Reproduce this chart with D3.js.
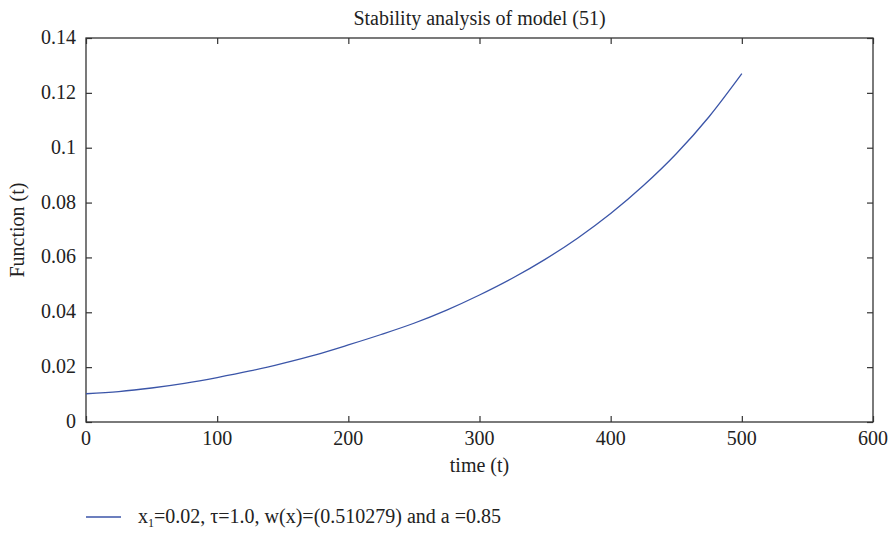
<!DOCTYPE html>
<html>
<head>
<meta charset="utf-8">
<script src="https://cdn.jsdelivr.net/npm/d3@7"></script>
<style>
  body { margin: 0; background: #fff; }
  text { font-family: "Liberation Serif", "DejaVu Serif", serif; fill: #222; }
</style>
</head>
<body>
<svg id="chart" width="892" height="535"></svg>
<script>
// values
var times = [0, 25, 50, 75, 100, 125, 150, 175, 200, 225, 250, 275, 300, 325, 350, 375, 400, 425, 450, 475, 500];
var values = [0.0103, 0.0111, 0.0124, 0.0141, 0.0162, 0.0186, 0.0214, 0.0245, 0.0281, 0.0319, 0.0360, 0.0408, 0.0463, 0.0524, 0.0593, 0.0671, 0.0760, 0.0862, 0.0978, 0.1113, 0.1270];
var xTicks = [0, 100, 200, 300, 400, 500, 600];
var yTicks = [0, 0.02, 0.04, 0.06, 0.08, 0.1, 0.12, 0.14];
var yTickLabels = ["0", "0.02", "0.04", "0.06", "0.08", "0.1", "0.12", "0.14"];

var svg = d3.select("#chart");
var plotLeft = 86, plotRight = 873, plotTop = 38, plotBottom = 422;
var axisColor = "#333";
var lineColor = "#3b55a8";
var fs = 20;

var x = d3.scaleLinear().domain([0, 600]).range([plotLeft, plotRight]);
var y = d3.scaleLinear().domain([0, 0.14]).range([plotBottom, plotTop]);

// box around plot
svg.append("rect")
    .attr("x", plotLeft).attr("y", plotTop)
    .attr("width", plotRight - plotLeft).attr("height", plotBottom - plotTop)
    .attr("fill", "none").attr("stroke", axisColor).attr("stroke-width", 1.3);

// inward ticks on all four sides
function styleAxis(g) {
    g.select(".domain").remove();
    g.selectAll(".tick line").attr("stroke", axisColor).attr("stroke-width", 1.2);
    g.selectAll(".tick text").remove();
}
svg.append("g").attr("transform", "translate(0," + plotBottom + ")")
    .call(d3.axisTop(x).tickValues(xTicks).tickSize(6)).call(styleAxis);
svg.append("g").attr("transform", "translate(0," + plotTop + ")")
    .call(d3.axisBottom(x).tickValues(xTicks).tickSize(6)).call(styleAxis);
svg.append("g").attr("transform", "translate(" + plotLeft + ",0)")
    .call(d3.axisRight(y).tickValues(yTicks).tickSize(6)).call(styleAxis);
svg.append("g").attr("transform", "translate(" + plotRight + ",0)")
    .call(d3.axisLeft(y).tickValues(yTicks).tickSize(6)).call(styleAxis);

// tick labels
svg.selectAll(".xlab").data(xTicks).enter().append("text")
    .attr("x", function (d) { return x(d); })
    .attr("y", plotBottom + 23)
    .attr("text-anchor", "middle")
    .attr("font-size", fs)
    .text(function (d) { return d; });

svg.selectAll(".ylab").data(yTicks).enter().append("text")
    .attr("x", plotLeft - 10)
    .attr("y", function (d) { return y(d) + 6; })
    .attr("text-anchor", "end")
    .attr("font-size", fs)
    .text(function (d, i) { return yTickLabels[i]; });

// titles
svg.append("text").attr("x", (plotLeft + plotRight) / 2).attr("y", 25)
    .attr("text-anchor", "middle").attr("font-size", fs)
    .text("Stability analysis of model (51)");

svg.append("text").attr("x", (plotLeft + plotRight) / 2).attr("y", 472)
    .attr("text-anchor", "middle").attr("font-size", fs)
    .text("time (t)");

svg.append("text")
    .attr("transform", "translate(24," + ((plotTop + plotBottom) / 2) + ") rotate(-90)")
    .attr("text-anchor", "middle").attr("font-size", fs)
    .text("Function (t)");

// curve
var line = d3.line()
    .x(function (d, i) { return x(times[i]); })
    .y(function (d) { return y(d); })
    .curve(d3.curveMonotoneX);

svg.append("path").datum(values)
    .attr("d", line)
    .attr("fill", "none")
    .attr("stroke", lineColor)
    .attr("stroke-width", 1.3);

// legend
svg.append("line")
    .attr("x1", 86).attr("x2", 121).attr("y1", 517).attr("y2", 517)
    .attr("stroke", lineColor).attr("stroke-width", 1.3);

var leg = svg.append("text").attr("x", 138).attr("y", 523).attr("font-size", fs);
leg.append("tspan").text("x");
leg.append("tspan").attr("font-size", 12).attr("dy", 4).text("1");
leg.append("tspan").attr("dy", -4).text("=0.02, \u03c4=1.0, w(x)=(0.510279) and a =0.85");
</script>
</body>
</html>
